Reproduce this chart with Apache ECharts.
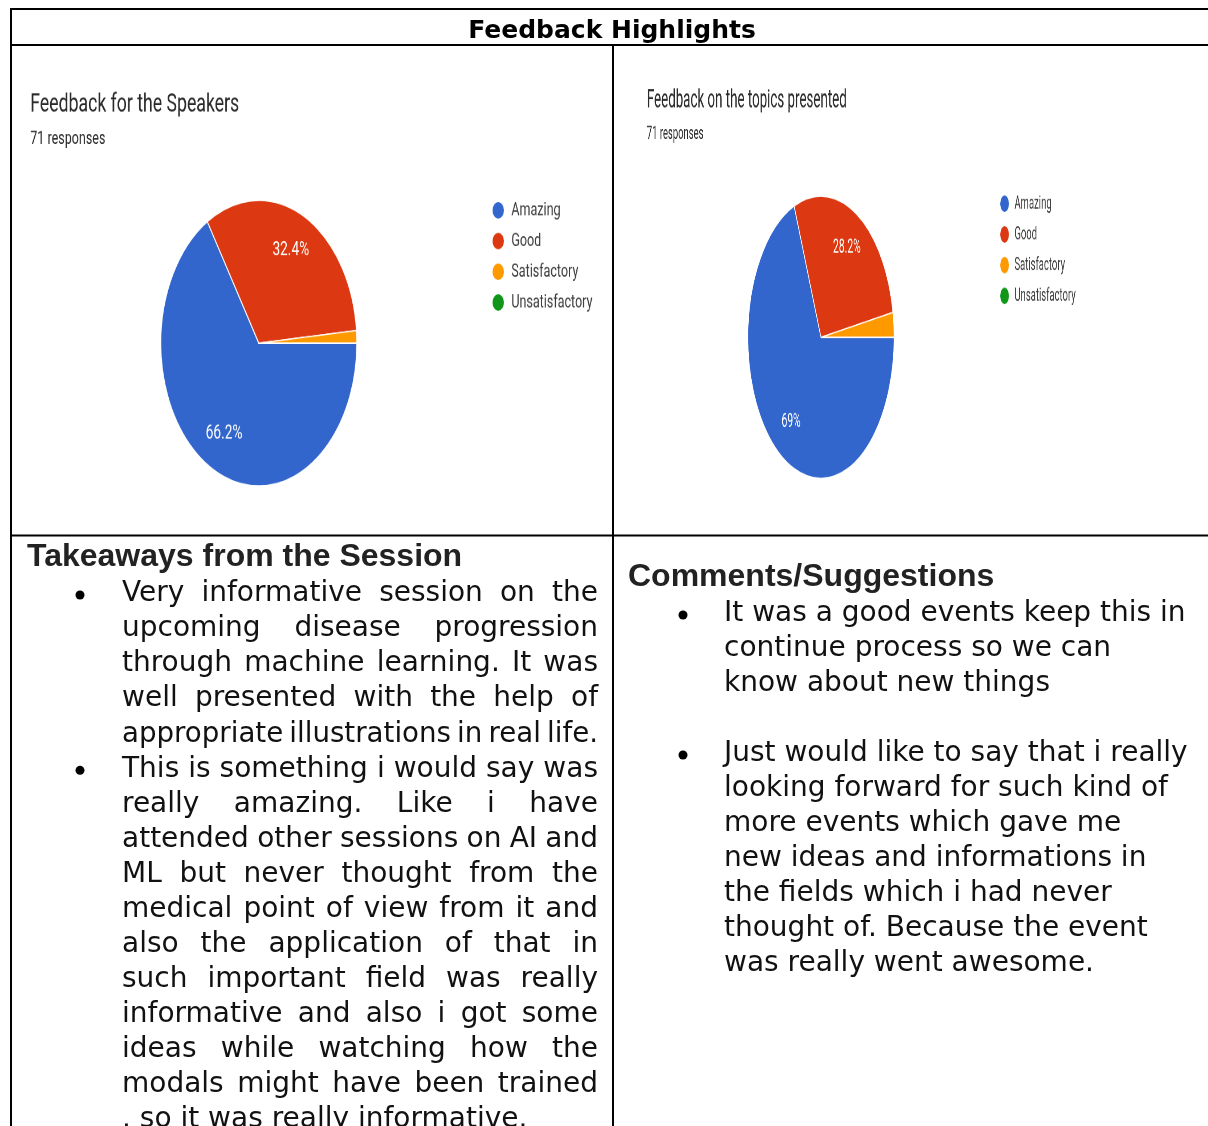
<!DOCTYPE html>
<html>
<head>
<meta charset="utf-8">
<title>Feedback Highlights</title>
<script src="https://cdn.jsdelivr.net/npm/echarts@6/dist/echarts.min.js"></script>
<style>
  html, body { margin: 0; padding: 0; background: #fff; }
  #page { position: relative; width: 1208px; height: 1126px; overflow: hidden; }
  #doc { position: absolute; left: 0; top: 0; width: 1208px; height: 1126px; }
  .pie { position: absolute; transform-origin: 0 0; filter: blur(0.35px); }
</style>
</head>
<body>
<div id="page">
  <div id="doc"></div>
  <div id="speakers" class="pie"></div>
  <div id="topics" class="pie"></div>
</div>
<script>
// ---- data ----
const ratingLevels = ['Amazing', 'Good', 'Satisfactory', 'Unsatisfactory'];
const ratingColors = ['#3366cc', '#dc3912', '#ff9900', '#109618'];
const speakerCounts = [47, 23, 1, 0];
const topicCounts = [49, 20, 2, 0];
const speakerTitle = 'Feedback for the Speakers';
const topicTitle = 'Feedback on the topics presented';
const responseNote = '71 responses';

const pageTitle = 'Feedback Highlights';
const takeawaysHeading = 'Takeaways from the Session';
const takeawayParagraphs = [
  [
    'Very informative session on the',
    'upcoming disease progression',
    'through machine learning. It was',
    'well presented with the help of',
    'appropriate illustrations in real life.'
  ],
  [
    'This is something i would say was',
    'really amazing. Like i have',
    'attended other sessions on AI and',
    'ML but never thought from the',
    'medical point of view from it and',
    'also the application of that in',
    'such important field was really',
    'informative and also i got some',
    'ideas while watching how the',
    'modals might have been trained',
    '. so it was really informative.'
  ]
];
const commentsHeading = 'Comments/Suggestions';
const commentParagraphs = [
  [
    'It was a good events keep this in',
    'continue process so we can',
    'know about new things'
  ],
  [
    'Just would like to say that i really',
    'looking forward for such kind of',
    'more events which gave me',
    'new ideas and informations in',
    'the fields which i had never',
    'thought of. Because the event',
    'was really went awesome.'
  ]
];

// ---- pie charts (each drawn in its own box, stretched like the pasted screenshots) ----
function pieOption(g, title, counts) {
  const total = counts.reduce((a, b) => a + b, 0);
  const data = ratingLevels.map((name, i) => ({ name: name, value: counts[i] }));
  const pctLabel = p => {
    const pct = p.value / total * 100;
    return pct < 5 ? '' : (Math.round(pct * 10) / 10).toString() + '%';
  };
  return {
    animation: false,
    color: ratingColors,
    title: [
      { text: title, left: g.titleX, top: g.titleY, padding: 0,
        textStyle: { fontFamily: 'Roboto', fontSize: 31, fontWeight: 'normal', color: '#2a2a2a' } },
      { text: responseNote, left: g.titleX, top: g.noteY, padding: 0,
        textStyle: { fontFamily: 'Roboto', fontSize: 22, fontWeight: 'normal', color: '#2a2a2a' } }
    ],
    legend: {
      orient: 'vertical', left: g.legendX, top: g.legendY, padding: 0,
      itemWidth: 22, itemHeight: 22, itemGap: 13, icon: 'circle', selectedMode: false,
      textStyle: { fontFamily: 'Roboto', fontSize: 22, color: '#3c3c3c', padding: [0, 0, 0, 7] },
      data: ratingLevels
    },
    series: [
      {
        type: 'pie', center: [g.cx, g.cy], radius: g.r, startAngle: 0, clockwise: true,
        avoidLabelOverlap: false, label: { show: false }, labelLine: { show: false },
        emphasis: { disabled: true },
        itemStyle: { borderColor: '#fff', borderWidth: 1.5 },
        data: data
      },
      {
        // transparent ring that only carries the percentage labels
        type: 'pie', center: [g.cx, g.cy], radius: [g.r * 0.42, g.r], startAngle: 0, clockwise: true,
        silent: true, avoidLabelOverlap: false, emphasis: { disabled: true },
        itemStyle: { color: 'rgba(0,0,0,0)', borderWidth: 0 },
        labelLine: { show: false },
        label: { show: true, position: 'inside', color: '#fff', fontFamily: 'Roboto', fontSize: 24,
                 formatter: pctLabel },
        data: data
      }
    ]
  };
}

function makePie(id, g, title, counts) {
  const el = document.getElementById(id);
  el.style.left = g.left + 'px';
  el.style.top = g.top + 'px';
  el.style.width = g.w + 'px';
  el.style.height = g.h + 'px';
  el.style.transform = 'scale(' + g.sx + ',' + g.sy + ')';
  const chart = echarts.init(el, null, { renderer: 'canvas' });
  chart.setOption(pieOption(g, title, counts));
}

makePie('speakers', {
  left: 12, top: 46, w: 1053, h: 589, sx: 0.57, sy: 0.83,
  titleX: 32, titleY: 56, noteY: 101,
  cx: 433, cy: 358, r: 172,
  legendX: 841, legendY: 186
}, speakerTitle, speakerCounts);

makePie('topics', {
  left: 615, top: 46, w: 1379, h: 589, sx: 0.43, sy: 0.83,
  titleX: 74, titleY: 51, noteY: 95,
  cx: 479, cy: 351, r: 170,
  legendX: 894, legendY: 178
}, topicTitle, topicCounts);

// ---- document table: borders, headings and bullet text ----
const BODY_FONT = '28px "DejaVu Sans"';
const HEAD_FONT = 'bold 32px "Liberation Sans"';
const TITLE_FONT = 'bold 25px "DejaVu Sans"';
const measureCtx = document.createElement('canvas').getContext('2d');
function textWidth(s, font) { measureCtx.font = font; return measureCtx.measureText(s).width; }

const elements = [];
function hline(x1, x2, y) {
  elements.push({ type: 'line', shape: { x1: x1, y1: y, x2: x2, y2: y }, style: { stroke: '#000', lineWidth: 2 } });
}
function vline(x, y1, y2) {
  elements.push({ type: 'line', shape: { x1: x, y1: y1, x2: x, y2: y2 }, style: { stroke: '#000', lineWidth: 2 } });
}
hline(10, 1208, 9);
hline(11, 1208, 45);
hline(11, 1208, 535.5);
vline(11, 8, 1126);
vline(613, 45, 1126);

elements.push({ type: 'text', x: 612, y: 31,
  style: { text: pageTitle, font: TITLE_FONT, fill: '#000', align: 'center', verticalAlign: 'middle' } });
elements.push({ type: 'text', x: 27, y: 557,
  style: { text: takeawaysHeading, font: HEAD_FONT, fill: '#222', verticalAlign: 'middle' } });
elements.push({ type: 'text', x: 628, y: 577,
  style: { text: commentsHeading, font: HEAD_FONT, fill: '#222', verticalAlign: 'middle' } });

// place one line word by word; justified lines are spread to the full column width
function placeLine(line, x0, x1, y, justify) {
  const words = line.split(' ');
  const ws = words.map(w => textWidth(w, BODY_FONT));
  const sum = ws.reduce((a, b) => a + b, 0);
  const sp = textWidth(' ', BODY_FONT);
  const width = x1 - x0;
  const n = words.length;
  let gap = sp, scale = 1;
  if (n > 1 && (justify || sum + (n - 1) * sp > width)) {
    gap = (width - sum) / (n - 1);
    const minGap = sp * 0.7;
    if (gap < minGap) {
      scale = width / (sum + (n - 1) * minGap);
      gap = minGap * scale;
    }
  }
  let x = x0;
  words.forEach((w, i) => {
    elements.push({ type: 'text', x: x, y: y, scaleX: scale,
      style: { text: w, font: BODY_FONT, fill: '#111', verticalAlign: 'middle' } });
    x += ws[i] * scale + gap;
  });
}

function placeColumn(paragraphs, opt) {
  let row = 0;
  paragraphs.forEach((para) => {
    const y0 = opt.y + row * opt.step;
    elements.push({ type: 'circle', shape: { cx: opt.bulletX, cy: y0 + 1, r: 4.5 }, style: { fill: '#000' } });
    para.forEach((line, li) => {
      const isLast = li === para.length - 1;
      placeLine(line, opt.x0, opt.x1, opt.y + row * opt.step, opt.justify && !isLast);
      row++;
    });
    row += opt.paraGap;
  });
}

placeColumn(takeawayParagraphs, { x0: 122, x1: 598, y: 594, step: 35.07, bulletX: 80, justify: true, paraGap: 0 });
placeColumn(commentParagraphs, { x0: 724, x1: 1200, y: 614, step: 35, bulletX: 683, justify: false, paraGap: 1 });

const doc = echarts.init(document.getElementById('doc'), null, { renderer: 'canvas' });
doc.setOption({ animation: false, graphic: { elements: elements } });
</script>
</body>
</html>
